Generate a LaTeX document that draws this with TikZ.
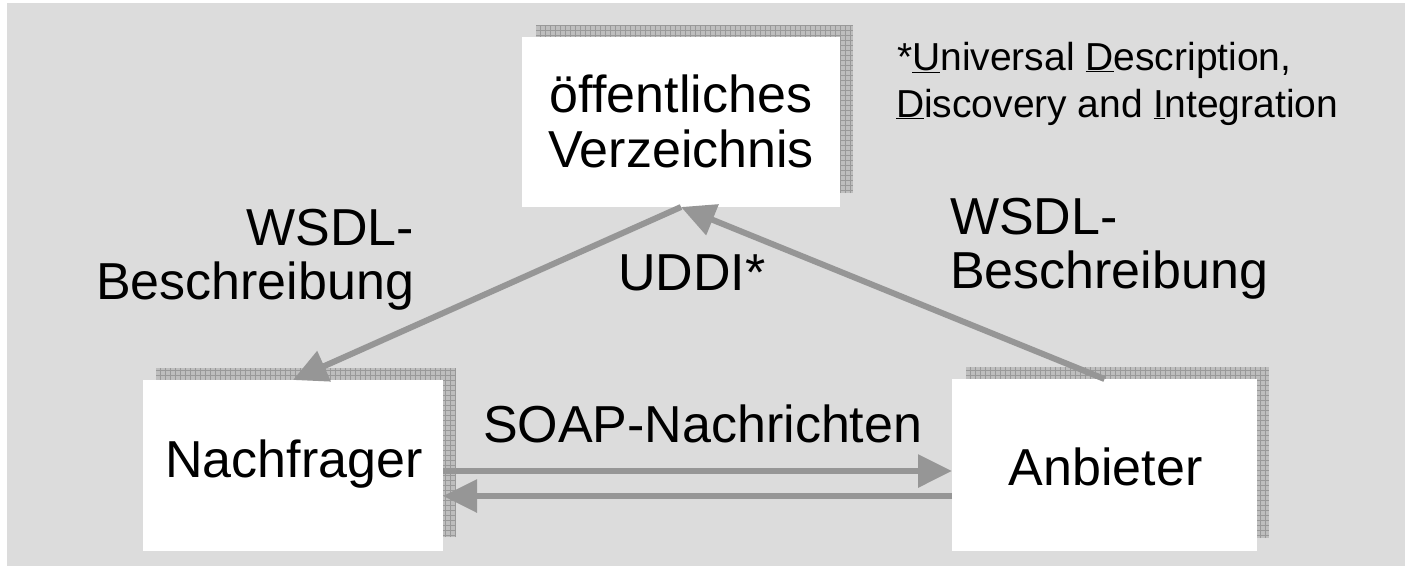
\documentclass[tikz,border=0pt]{standalone}
\usepackage{fontspec}
\setmainfont{Liberation Sans}
\usetikzlibrary{arrows.meta,calc}
\definecolor{panelgray}{HTML}{DCDCDC}
\definecolor{flowgray}{HTML}{969696}
\definecolor{shadefill}{HTML}{BEBEBE}
\definecolor{shadegrid}{HTML}{999999}
\begin{document}
\begin{tikzpicture}[x=1pt,y=-1pt,
  box/.style={fill=white,draw=none,inner sep=0pt,outer sep=0pt},
  big/.style={font=\fontsize{52}{54}\selectfont,inner sep=0pt,outer sep=0pt},
  small/.style={font=\fontsize{39}{47}\selectfont,inner sep=0pt,outer sep=0pt},
  flow/.style={draw=flowgray,line width=6pt,-{Triangle[length=34pt,width=32pt]}},
  shade/.style={fill=shadefill},
  shadelines/.style={draw=shadegrid,line width=0.5pt},
]
\useasboundingbox (0,0) rectangle (1405,566);
\fill[white] (0,0) rectangle (1405,566);
\fill[panelgray] (7,3) rectangle (1405,566);

% hatched shadows behind the three boxes
\fill[shade] (536,25) rectangle (853,193);
\draw[shadelines] (536,25) grid[step=5pt] (853,193);
\fill[shade] (156,368) rectangle (456,537);
\draw[shadelines] (156,368) grid[step=5pt] (456,537);
\fill[shade] (966,367) rectangle (1269,538);
\draw[shadelines] (966,367) grid[step=5pt] (1269,538);

% boxes
\node[box,minimum width=318pt,minimum height=170pt] (dir) at (681,122) {};
\node[box,minimum width=300pt,minimum height=171pt] (req) at (293,465.5) {};
\node[box,minimum width=305pt,minimum height=172pt] (prov) at (1104.5,465) {};

% box texts
\node[big,anchor=base] (dirA) at (681,112) {öffentliches};
\node[big,anchor=base] (dirB) at (681,167) {Verzeichnis};
\node[big,anchor=base] (reqT) at (294,477) {Nachfrager};
\node[big,anchor=base] (provT) at (1105.5,485) {Anbieter};

% labels
\node[big,anchor=base east] (wl1) at (414,245) {WSDL-};
\node[big,anchor=base east] (wl2) at (414,299) {Beschreibung};
\node[big,anchor=base west] (wr1) at (950,234) {WSDL-};
\node[big,anchor=base west] (wr2) at (950,288) {Beschreibung};
\node[big,anchor=base west] (uddi) at (618,290) {UDDI*};
\node[big,anchor=base west] (soap) at (483,442) {SOAP-Nachrichten};
\node[small,anchor=base west] (fn1) at (897,70) {*\underline{U}niversal \underline{D}escription,};
\node[small,anchor=base west] (fn2) at (896,117) {\underline{D}iscovery and \underline{I}ntegration};

% connectors
\draw[flow] (dir.south) -- (req.north);
\draw[flow] (prov.north) -- (dir.south);
\draw[flow] ($(req.east)+(0,5.5)$) -- ($(prov.west)+(0,6)$);
\draw[flow] ($(prov.west)+(0,31)$) -- ($(req.east)+(0,30.5)$);
\end{tikzpicture}
\end{document}
